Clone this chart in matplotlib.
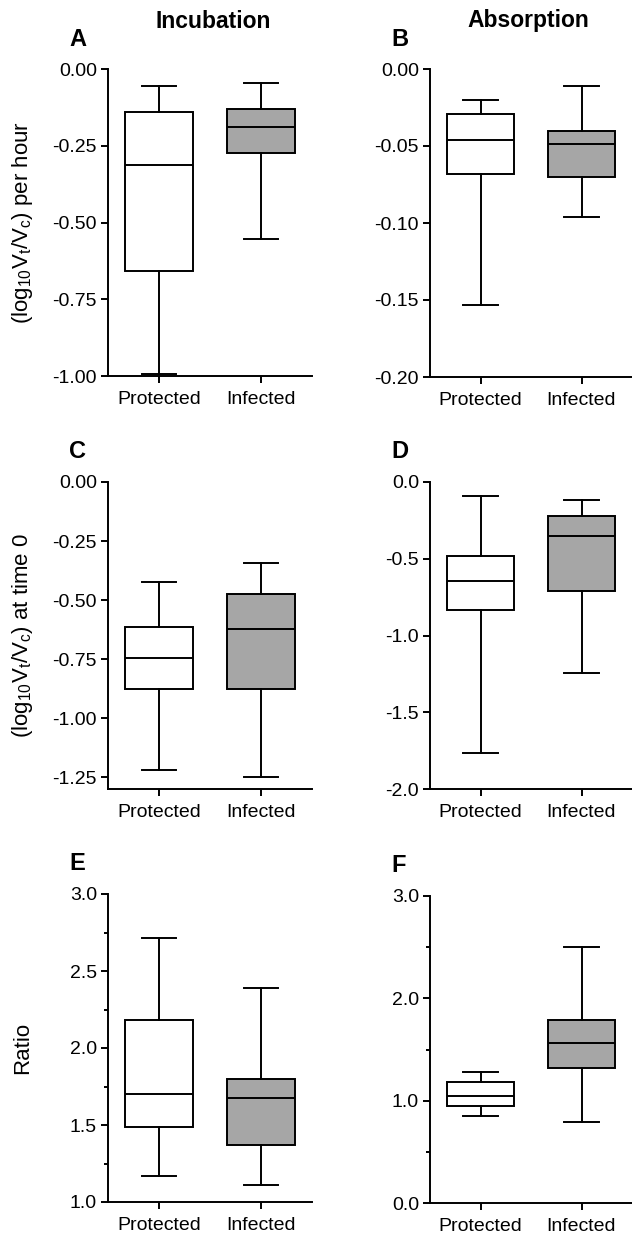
import matplotlib
matplotlib.use("Agg")
import matplotlib.pyplot as plt
from matplotlib.ticker import FormatStrFormatter, MultipleLocator

plt.rcParams["font.family"] = ["Liberation Sans", "DejaVu Sans"]
plt.rcParams["mathtext.default"] = "regular"

W, H = 632, 1237

groups = ["Protected", "Infected"]
fills = ["white", "#a6a6a6"]

# box stats per group: [whisker low, Q1, median, Q3, whisker high]
incub_rate_protected = [-0.995, -0.658, -0.313, -0.139, -0.055]
incub_rate_infected = [-0.553, -0.273, -0.188, -0.131, -0.047]
absorb_rate_protected = [-0.153, -0.068, -0.046, -0.0295, -0.020]
absorb_rate_infected = [-0.0964, -0.0704, -0.0488, -0.0403, -0.0108]
incub_t0_protected = [-1.218, -0.878, -0.744, -0.614, -0.424]
incub_t0_infected = [-1.250, -0.875, -0.621, -0.475, -0.341]
absorb_t0_protected = [-1.766, -0.834, -0.644, -0.483, -0.093]
absorb_t0_infected = [-1.242, -0.709, -0.351, -0.221, -0.119]
incub_ratio_protected = [1.167, 1.487, 1.700, 2.181, 2.716]
incub_ratio_infected = [1.108, 1.368, 1.676, 1.797, 2.387]
absorb_ratio_protected = [0.855, 0.952, 1.050, 1.180, 1.278]
absorb_ratio_infected = [0.796, 1.317, 1.561, 1.789, 2.502]

ylabel_rate = r"(log$_{10}$V$_t$/V$_c$) per hour"
ylabel_t0 = r"(log$_{10}$V$_t$/V$_c$) at time 0"
ylabel_ratio = "Ratio"

# (letter, data, ylim, major step, minor step, fmt, ylabel, box px: left, top, right, bottom)
panels = [
    ("A", (incub_rate_protected, incub_rate_infected), (-1.0, 0.0), 0.25, None, "%.2f",
     ylabel_rate, (108, 69, 312, 376)),
    ("B", (absorb_rate_protected, absorb_rate_infected), (-0.2, 0.0), 0.05, None, "%.2f",
     None, (430, 69, 632, 377)),
    ("C", (incub_t0_protected, incub_t0_infected), (-1.3, 0.0), 0.25, None, "%.2f",
     ylabel_t0, (108, 482, 312, 789)),
    ("D", (absorb_t0_protected, absorb_t0_infected), (-2.0, 0.0), 0.5, None, "%.1f",
     None, (430, 482, 632, 789)),
    ("E", (incub_ratio_protected, incub_ratio_infected), (1.0, 3.0), 0.5, 0.25, "%.1f",
     ylabel_ratio, (108, 894, 312, 1202)),
    ("F", (absorb_ratio_protected, absorb_ratio_infected), (0.0, 3.0), 1.0, 0.5, "%.1f",
     None, (430, 896, 632, 1203)),
]

fig = plt.figure(figsize=(W / 100, H / 100), dpi=100)

lw = 1.4
for letter, data, ylim, major, minor, fmt, ylabel, (l, t, r, b) in panels:
    ax = fig.add_axes([l / W, 1 - b / H, (r - l) / W, (b - t) / H])
    stats = []
    for name, (lo, q1, med, q3, hi) in zip(groups, data):
        stats.append({"label": name, "whislo": lo, "q1": q1, "med": med,
                      "q3": q3, "whishi": hi, "fliers": []})
    bp = ax.bxp(stats, positions=[1, 2], widths=0.667, patch_artist=True,
                showfliers=False,
                boxprops=dict(edgecolor="black", linewidth=lw),
                medianprops=dict(color="black", linewidth=lw),
                whiskerprops=dict(color="black", linewidth=lw),
                capprops=dict(color="black", linewidth=lw),
                capwidths=0.34)
    for patch, c in zip(bp["boxes"], fills):
        patch.set_facecolor(c)

    ax.set_xlim(0.5, 2.5)
    ax.set_ylim(*ylim)
    if letter == "C":
        ax.set_yticks([0, -0.25, -0.5, -0.75, -1.0, -1.25])
    else:
        ax.yaxis.set_major_locator(MultipleLocator(major))
    if minor:
        ax.yaxis.set_minor_locator(MultipleLocator(minor))
    ax.yaxis.set_major_formatter(FormatStrFormatter(fmt))
    ax.set_xticks([1, 2])
    ax.set_xticklabels(groups)
    for side in ("top", "right"):
        ax.spines[side].set_visible(False)
    for side in ("left", "bottom"):
        ax.spines[side].set_linewidth(lw)
    ax.tick_params(axis="both", which="major", length=5, width=lw,
                   labelsize=14, direction="out")
    ax.tick_params(axis="y", which="minor", length=3, width=lw)
    ax.tick_params(axis="y", pad=3)
    ax.tick_params(axis="x", pad=6)

    fig.text((l - 39) / W, 1 - (t - 30) / H, letter, fontsize=17,
             fontweight="bold", ha="left", va="center")
    if ylabel:
        fig.text(23 / W, 1 - ((t + b) / 2) / H, ylabel, rotation=90,
                 fontsize=16, ha="center", va="center")

fig.text(213 / W, 1 - 21 / H, "Incubation", fontsize=16.5, fontweight="bold",
         ha="center", va="center")
fig.text(528 / W, 1 - 21 / H, "Absorption", fontsize=16.5, fontweight="bold",
         ha="center", va="center")

fig.savefig("out.png", dpi=100)
